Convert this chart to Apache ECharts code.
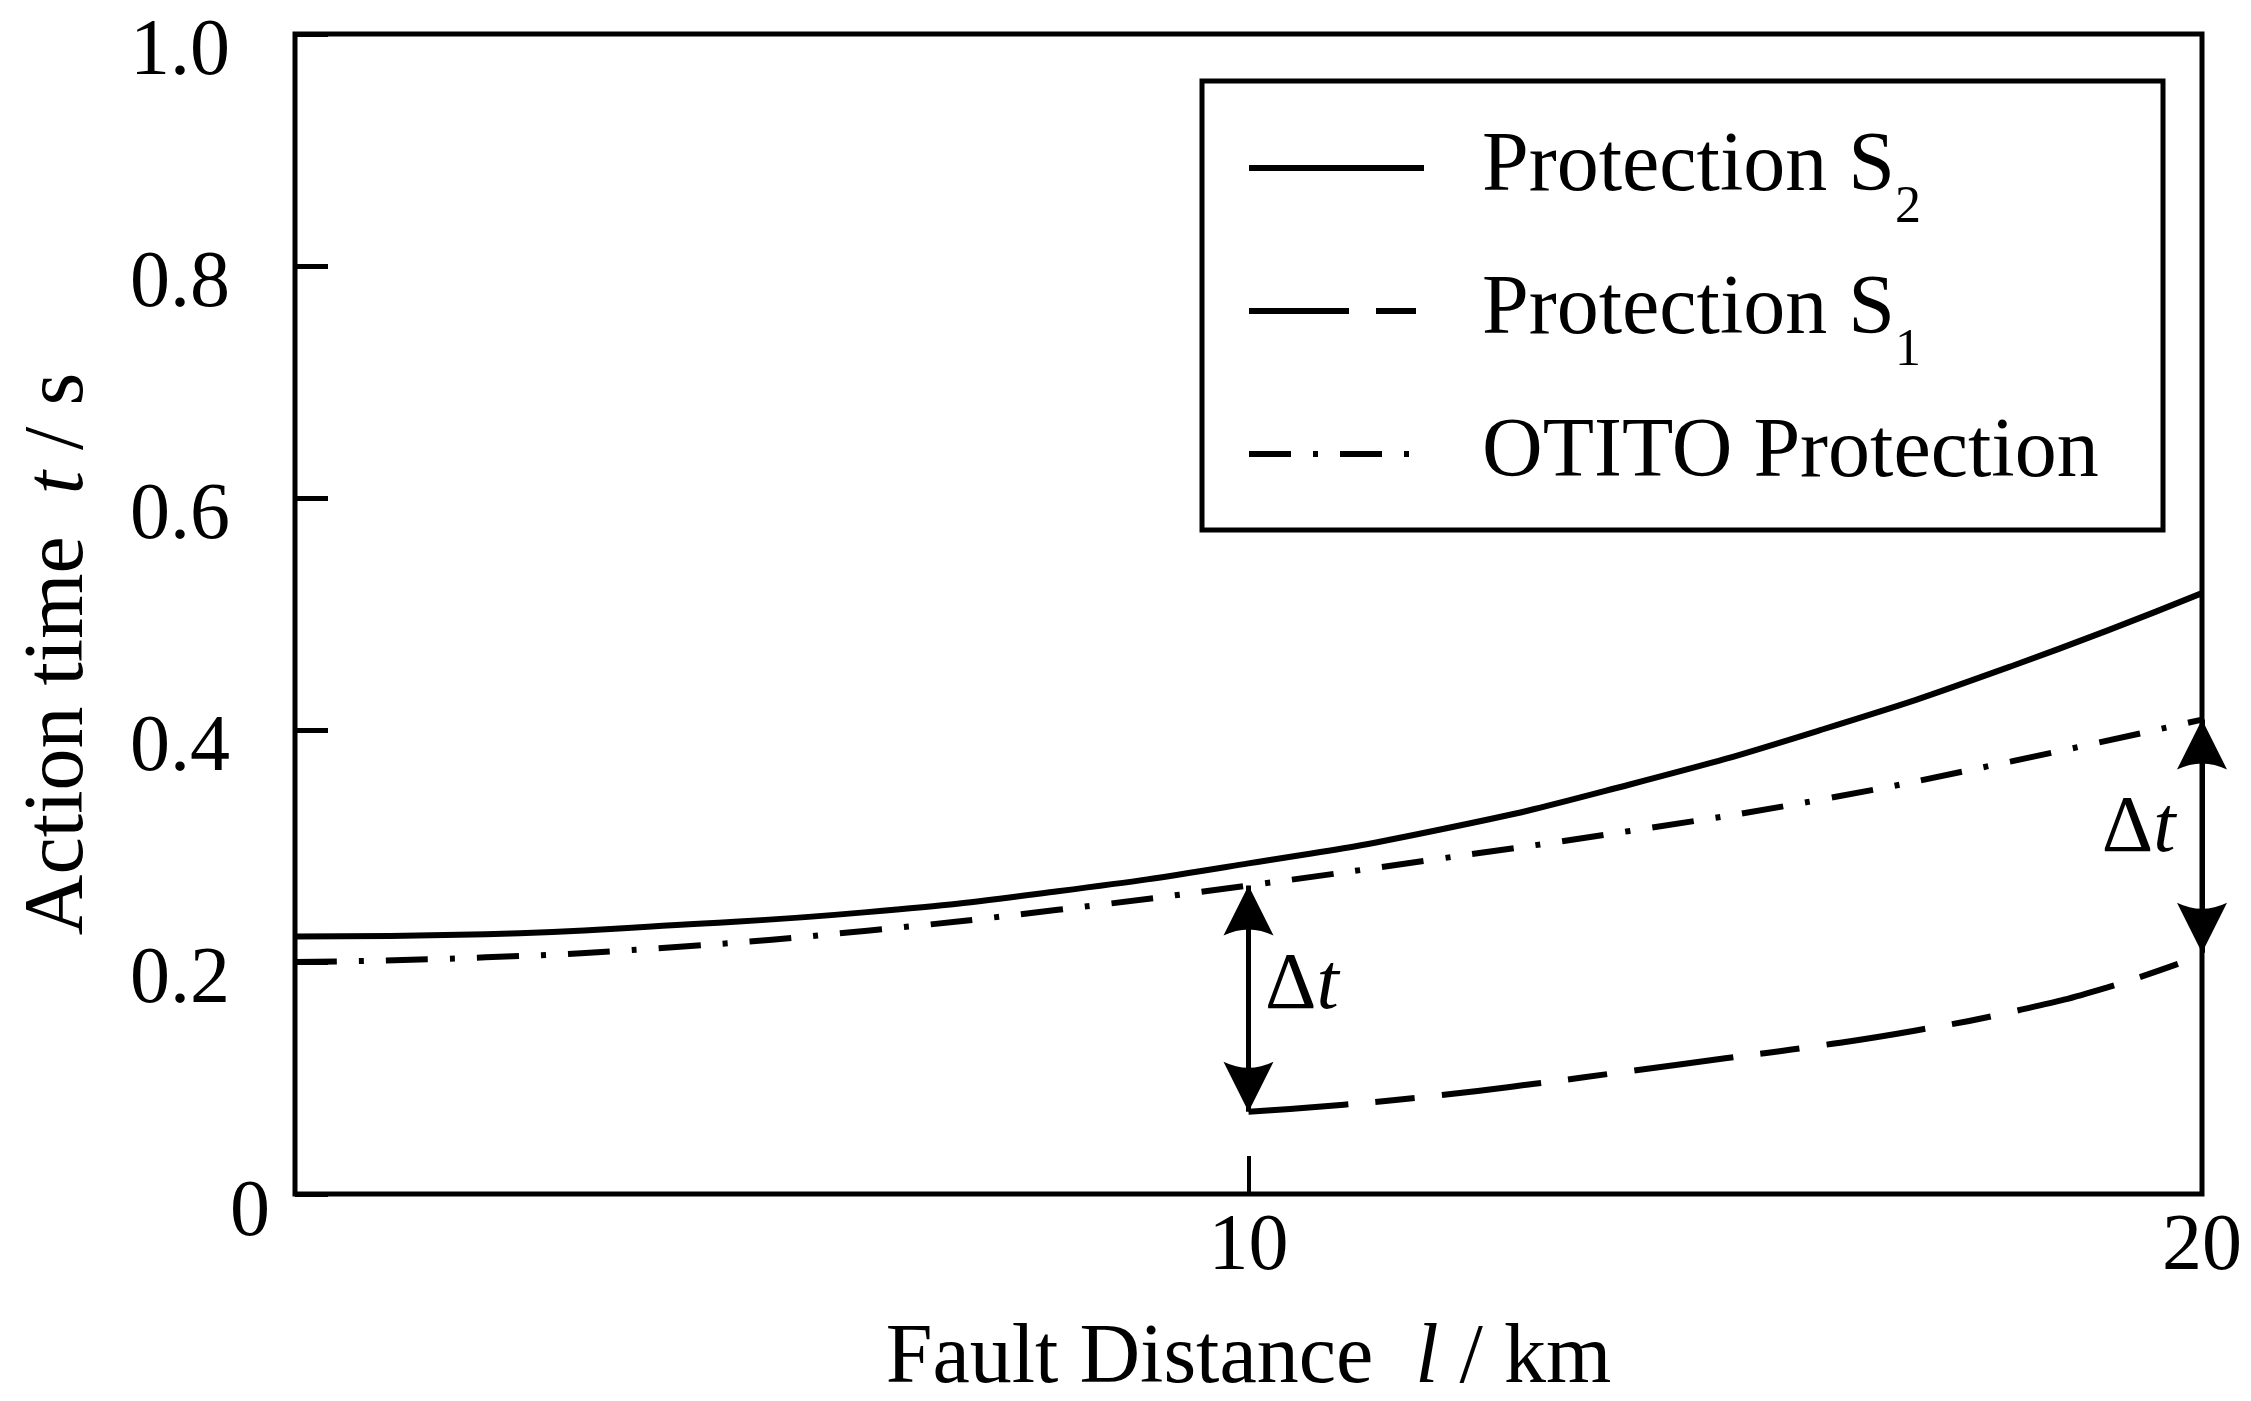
<!DOCTYPE html>
<html>
<head>
<meta charset="utf-8">
<script src="https://cdn.jsdelivr.net/npm/echarts@6/dist/echarts.min.js"></script>
<style>
html,body{margin:0;padding:0;background:#ffffff;}
#c{width:2251px;height:1401px;}
</style>
</head>
<body>
<div id="c"></div>
<script>
// ---------------- data ----------------
const distS2 = [0, 2, 4, 6, 8, 10, 12, 14, 16, 18, 20];
const valS2 = [0.222, 0.224, 0.232, 0.243, 0.261, 0.285, 0.314, 0.353, 0.400, 0.455, 0.518];

const distOTITO = [0, 2, 4, 6, 8, 10, 12, 14, 16, 18, 20];
const valOTITO = [0.200, 0.204, 0.213, 0.227, 0.245, 0.266, 0.289, 0.313, 0.340, 0.373, 0.409];

const distS1 = [10, 11, 12, 13, 14, 15, 16, 17, 18, 19, 20];
const valS1 = [0.071, 0.077, 0.085, 0.095, 0.106, 0.117, 0.128, 0.141, 0.157, 0.178, 0.206];

// Δt annotations: [distance, upper value, lower value]
const deltaA = [10, 0.266, 0.071];
const deltaB = [20, 0.409, 0.208];

const xTickLabels = ['0', '10', '20'];
const yTickLabels = ['0', '0.2', '0.4', '0.6', '0.8', '1.0'];

const seriesNames = ['Protection S2', 'Protection S1', 'OTITO Protection'];

// ---------------- chart ----------------
const FONT = '"Liberation Serif", "Times New Roman", serif';
const FS = 80;   // tick labels
const FN = 84;   // axis names, legend
const ARROW = 'path://M25,0 L50,50 Q25,38 0,50 Z';

function pairs(xs, ys) { return xs.map((x, i) => [x, ys[i]]); }

const ctx = document.createElement('canvas').getContext('2d');
ctx.font = FN + 'px "Liberation Serif"';
const longest = ctx.measureText('OTITO Protection').width;
const legendBoxW = 958, padL = 44, iconW = 175, textPadL = 53;
const padR = Math.max(10, legendBoxW - (padL + iconW + 5 + textPadL + longest));

const chart = echarts.init(document.getElementById('c'), null, { renderer: 'canvas' });

const option = {
  animation: false,
  backgroundColor: '#ffffff',
  grid: {
    left: 295, right: 49, top: 34, bottom: 207,
    show: true, borderColor: '#000', borderWidth: 5, backgroundColor: 'transparent',
    containLabel: false, outerBoundsMode: 'none'
  },
  xAxis: {
    type: 'value', min: 0, max: 20, interval: 10,
    axisLine: { show: false },
    splitLine: { show: false },
    axisTick: { show: true, inside: true, length: 38, lineStyle: { color: '#000', width: 4 } },
    axisLabel: {
      margin: 14, color: '#000', fontFamily: FONT, fontSize: FS, lineHeight: FS,
      formatter: v => (v === 0 ? '' : xTickLabels[Math.round(v / 10)])
    },
    name: '{n|Fault Distance  }{i|l}{n| / km}',
    nameLocation: 'middle', nameGap: 124,
    nameTextStyle: {
      color: '#000', fontFamily: FONT, fontSize: FN, lineHeight: FN,
      rich: {
        n: { fontFamily: FONT, fontSize: FN, lineHeight: FN, color: '#000' },
        i: { fontFamily: FONT, fontSize: FN, lineHeight: FN, color: '#000', fontStyle: 'italic' }
      }
    }
  },
  yAxis: {
    type: 'value', min: 0, max: 1, interval: 0.2,
    axisLine: { show: false },
    splitLine: { show: false },
    axisTick: { show: true, inside: true, length: 33, lineStyle: { color: '#000', width: 5 } },
    axisLabel: {
      margin: 25, color: '#000', fontFamily: FONT, fontSize: FS,
      formatter: v => {
        const s = yTickLabels[Math.round(v / 0.2)];
        return v === 0 ? '{z|' + s + '}' : '{a|' + s + '}';
      },
      rich: {
        a: { fontFamily: FONT, fontSize: FS, lineHeight: FS, color: '#000', padding: [38, 40, 0, 0] },
        z: { fontFamily: FONT, fontSize: FS, lineHeight: FS, color: '#000', padding: [40, 0, 0, 0] }
      }
    },
    name: '{n|Action time  }{i|t}{e| / s}',
    nameLocation: 'middle', nameGap: 193,
    nameTextStyle: {
      color: '#000', fontFamily: FONT, fontSize: FN, lineHeight: FN,
      rich: {
        n: { fontFamily: FONT, fontSize: FN, lineHeight: FN, color: '#000' },
        i: { fontFamily: FONT, fontSize: FN, lineHeight: FN, color: '#000', fontStyle: 'italic' },
        e: { fontFamily: FONT, fontSize: FN, lineHeight: FN, color: '#000', padding: [0, 80, 0, 0] }
      }
    }
  },
  legend: {
    show: true, orient: 'vertical', left: 1202, top: 81,
    padding: [21, padR, 10, padL],
    borderColor: '#000', borderWidth: 5, backgroundColor: '#fff',
    itemWidth: iconW, itemHeight: 20, itemGap: 11,
    selectedMode: false,
    itemStyle: { opacity: 0 },
    lineStyle: { width: 6 },
    data: seriesNames.slice(),
    formatter: name => {
      if (name === 'Protection S2') return '{m|Protection S}{s|2}';
      if (name === 'Protection S1') return '{m|Protection S}{s|1}';
      return '{m|' + name + '}';
    },
    textStyle: {
      color: '#000', fontFamily: FONT, fontSize: FN,
      rich: {
        m: { fontFamily: FONT, fontSize: FN, lineHeight: FN, color: '#000', padding: [24, 0, 24, textPadL] },
        s: { fontFamily: FONT, fontSize: 52, lineHeight: 52, color: '#000', padding: [80, 0, 0, 0] }
      }
    }
  },
  series: [
    {
      name: seriesNames[0], type: 'line', data: pairs(distS2, valS2),
      smooth: true, symbol: 'none', silent: true,
      lineStyle: { color: '#000', width: 6, type: 'solid' }
    },
    {
      name: seriesNames[1], type: 'line', data: pairs(distS1, valS1),
      smooth: true, symbol: 'none', silent: true,
      lineStyle: { color: '#000', width: 6, type: [100, 27, 40, 27] },
      markLine: {
        silent: true,
        symbol: [ARROW, ARROW],
        symbolSize: [50, 50],
        symbolOffset: [[0, 25], [0, 25]],
        label: { show: false },
        lineStyle: { color: '#000', width: 5, type: 'solid' },
        itemStyle: { color: '#000' },
        emphasis: { disabled: true },
        data: [
          [{ coord: [deltaA[0], deltaA[1]] }, { coord: [deltaA[0], deltaA[2]] }],
          [{ coord: [deltaB[0], deltaB[1]] }, { coord: [deltaB[0], deltaB[2]] }]
        ]
      },
      markPoint: {
        silent: true,
        symbol: 'rect', symbolSize: 1,
        itemStyle: { color: 'rgba(0,0,0,0)' },
        emphasis: { disabled: true },
        data: [
          {
            coord: [deltaA[0], (deltaA[1] + deltaA[2]) / 2],
            label: { show: true, position: 'right', distance: 16, offset: [0, -12] }
          },
          {
            coord: [deltaB[0], (deltaB[1] + deltaB[2]) / 2],
            label: { show: true, position: 'left', distance: 26, offset: [0, -6] }
          }
        ],
        label: {
          show: true, formatter: '{d|Δ}{t|t}',
          rich: {
            d: { fontFamily: FONT, fontSize: FS, lineHeight: FS, color: '#000' },
            t: { fontFamily: FONT, fontSize: FS, lineHeight: FS, color: '#000', fontStyle: 'italic' }
          }
        }
      }
    },
    {
      name: seriesNames[2], type: 'line', data: pairs(distOTITO, valOTITO),
      smooth: true, symbol: 'none', silent: true,
      lineStyle: { color: '#000', width: 6, type: [42, 22, 5, 22] }
    }
  ]
};
chart.setOption(option);
</script>
</body>
</html>
